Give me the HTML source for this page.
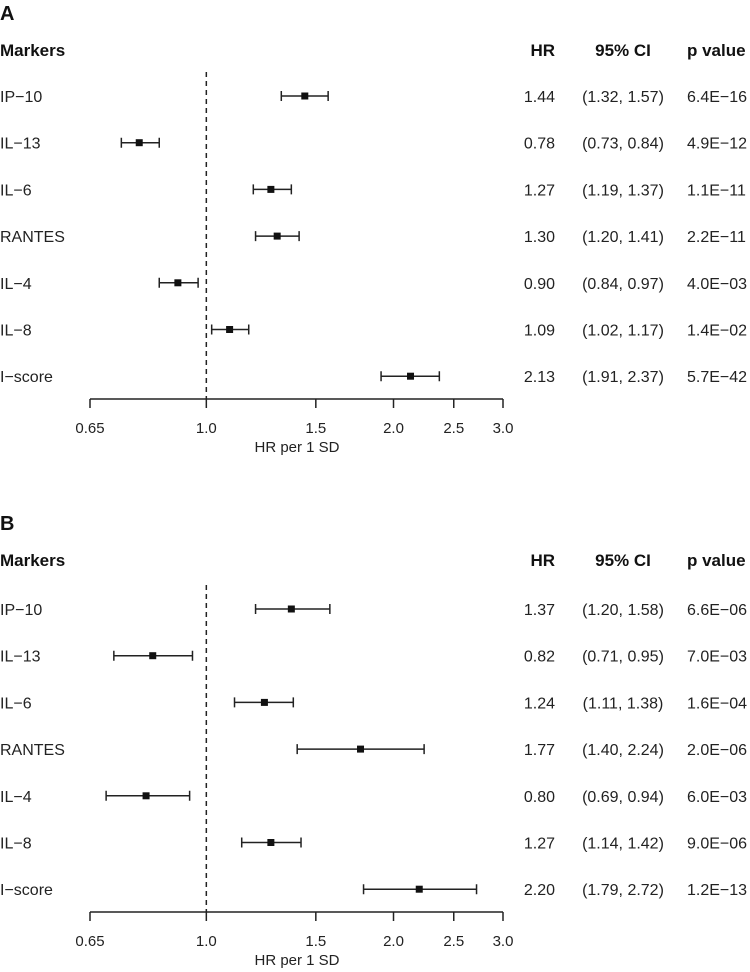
<!DOCTYPE html>
<html><head><meta charset="utf-8"><style>
html,body{margin:0;padding:0;background:#fff;}
svg{display:block;font-family:"Liberation Sans",Arial,sans-serif;}
</style></head><body>
<svg id="chart" width="750" height="972" viewBox="0 0 750 972"></svg>
<script>
const markers = ["IP\u221210","IL\u221213","IL\u22126","RANTES","IL\u22124","IL\u22128","I\u2212score"];
const hrA = [1.44,0.78,1.27,1.30,0.90,1.09,2.13];
const loA = [1.32,0.73,1.19,1.20,0.84,1.02,1.91];
const hiA = [1.57,0.84,1.37,1.41,0.97,1.17,2.37];
const pA = ["6.4E\u221216","4.9E\u221212","1.1E\u221211","2.2E\u221211","4.0E\u221203","1.4E\u221202","5.7E\u221242"];
const hrB = [1.37,0.82,1.24,1.77,0.80,1.27,2.20];
const loB = [1.20,0.71,1.11,1.40,0.69,1.14,1.79];
const hiB = [1.58,0.95,1.38,2.24,0.94,1.42,2.72];
const pB = ["6.6E\u221206","7.0E\u221203","1.6E\u221204","2.0E\u221206","6.0E\u221203","9.0E\u221206","1.2E\u221213"];
const tickVals = [0.65,1.0,1.5,2.0,2.5,3.0];
const tickLabels = ["0.65","1.0","1.5","2.0","2.5","3.0"];

const NS="http://www.w3.org/2000/svg";
const svg=document.getElementById('chart');
function xScale(v){return 90+(Math.log(v)-Math.log(0.65))/(Math.log(3)-Math.log(0.65))*413;}
function mk(tag,attrs,parent){const e=document.createElementNS(NS,tag);for(const k in attrs)e.setAttribute(k,attrs[k]);(parent||svg).appendChild(e);return e;}
function txt(s,x,y,opts,parent){const t=mk('text',Object.assign({x:x,y:y,'font-size':16,fill:'#222'},opts||{}),parent);t.textContent=s;return t;}
const fmt=v=>v.toFixed(2);

function panel(letter,oy,hr,lo,hi,pv,rowY0,axisY){
  const g=mk('g',{});
  
  
  let t=txt(letter,0,oy+20,{'font-size':20,'font-weight':'bold',fill:'#111'},g);
  
  const hy=oy+56;
  t=txt('Markers',0,hy,{'font-size':17,'font-weight':'bold',fill:'#111'},g);
  
  t=txt('HR',555,hy,{'font-size':17,'font-weight':'bold','text-anchor':'end',fill:'#111'},g);
  
  t=txt('95% CI',623,hy,{'font-size':17,'font-weight':'bold','text-anchor':'middle',fill:'#111'},g);
  
  t=txt('p value',687,hy,{'font-size':17,'font-weight':'bold',fill:'#111'},g);
  
  // reference line
  const rl=mk('line',{x1:xScale(1),x2:xScale(1),y1:rowY0-24,y2:axisY,stroke:'#222','stroke-width':1.5,'stroke-dasharray':'5,4'},g);
  
  const step=46.7;
  markers.forEach((m,i)=>{
    const y=rowY0+i*step;
    let e=txt(m,0,y+6,{},g);
    
    const x1=xScale(lo[i]),x2=xScale(hi[i]),xc=xScale(hr[i]);
    e=mk('path',{d:`M${x1},${y}H${x2}M${x1},${y-5}V${y+5}M${x2},${y-5}V${y+5}`,stroke:'#222','stroke-width':1.5,fill:'none'},g);
    
    e=mk('rect',{x:xc-3.5,y:y-3.5,width:7,height:7,fill:'#111'},g);
    
    e=txt(fmt(hr[i]),555,y+6,{'text-anchor':'end'},g);
    
    e=txt('('+fmt(lo[i])+', '+fmt(hi[i])+')',623,y+6,{'text-anchor':'middle'},g);
    
    e=txt(pv[i],687,y+6,{},g);
    
  });
  const ax=mk('line',{x1:xScale(0.65),x2:xScale(3),y1:axisY,y2:axisY,stroke:'#222','stroke-width':1.5},g);
  
  tickVals.forEach((v,i)=>{
    const x=xScale(v);
    let e=mk('line',{x1:x,x2:x,y1:axisY,y2:axisY+9,stroke:'#222','stroke-width':1.5},g);
    
    e=txt(tickLabels[i],x,axisY+34,{'font-size':15,'text-anchor':'middle'},g);
    
  });
  t=txt('HR per 1 SD',297,axisY+53,{'font-size':15,'text-anchor':'middle'},g);
  
}
panel('A',0,hrA,loA,hiA,pA,96,399);
panel('B',510,hrB,loB,hiB,pB,609,912);
</script>
</body></html>
